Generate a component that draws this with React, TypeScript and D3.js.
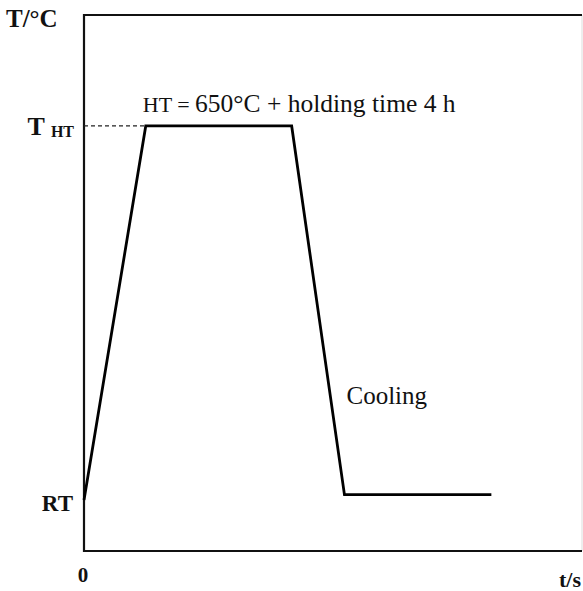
import React, { useEffect, useRef } from 'react';
import * as d3 from 'd3';

// heat-treatment profile (time, temperature) in arbitrary units
const profileTime = [0, 12.4, 41.7, 52.3, 81.8];
const profileTemp = [9.5, 79.3, 79.3, 10.5, 10.5];
const T_RT = 9.5;
const T_HT = 79.3;

const W = 583;
const H = 591;
const M = { left: 84, right: 1, top: 15, bottom: 40 };

const App: React.FC = () => {
  const svgRef = useRef<SVGSVGElement | null>(null);

  useEffect(() => {
    if (!svgRef.current) return;
    const svg = d3.select(svgRef.current);
    svg.selectAll('*').remove();

    const x = d3.scaleLinear().domain([0, 100]).range([M.left, W - M.right]);
    const y = d3.scaleLinear().domain([0, 100]).range([H - M.bottom, M.top]);
    const serif = "'Liberation Serif', 'Times New Roman', serif";

    // frame
    svg
      .append('line')
      .attr('x1', x(100)).attr('x2', x(100))
      .attr('y1', y(100)).attr('y2', y(0))
      .attr('stroke', '#ddd').attr('stroke-width', 1);
    svg
      .append('path')
      .attr('d', `M${x(100)},${y(100)}H${x(0)}V${y(0)}H${x(100)}`)
      .attr('fill', 'none')
      .attr('stroke', '#111')
      .attr('stroke-width', 2.2);

    // dashed guide to T_HT
    svg
      .append('line')
      .attr('x1', x(0)).attr('x2', x(profileTime[1]))
      .attr('y1', y(T_HT)).attr('y2', y(T_HT))
      .attr('stroke', '#222')
      .attr('stroke-width', 1.3)
      .attr('stroke-dasharray', '4,3');

    const line = d3
      .line<number>()
      .x((d) => x(d))
      .y((_, i) => y(profileTemp[i]));
    svg
      .append('path')
      .datum(profileTime)
      .attr('d', line)
      .attr('fill', 'none')
      .attr('stroke', '#000')
      .attr('stroke-width', 2.8)
      .attr('stroke-linejoin', 'miter');

    const txt = (s: string, tx: number, ty: number, size: number, bold = true, anchor = 'start') =>
      svg
        .append('text')
        .attr('x', tx)
        .attr('y', ty)
        .attr('font-family', serif)
        .attr('font-size', size)
        .attr('font-weight', bold ? 'bold' : 'normal')
        .attr('text-anchor', anchor)
        .attr('fill', '#111')
        .text(s);

    txt('T/°C', 6, 27, 25);
    txt('RT', 73, y(T_RT) + 11, 23, true, 'end');
    txt('0', x(0) - 1, 582, 21, true, 'middle');
    txt('t/s', 559, 587, 22);

    const tht = svg
      .append('text')
      .attr('x', 74)
      .attr('y', y(T_HT) + 9)
      .attr('text-anchor', 'end')
      .attr('font-family', serif)
      .attr('font-weight', 'bold')
      .attr('fill', '#111');
    tht.append('tspan').attr('font-size', 26).text('T ');
    tht.append('tspan').attr('font-size', 16).attr('dy', 2).text('HT');

    const ann = svg
      .append('text')
      .attr('x', x(profileTime[1]) - 3)
      .attr('y', y(T_HT) - 14)
      .attr('font-family', serif)
      .attr('fill', '#111');
    ann.append('tspan').attr('font-size', 22).text('HT = ');
    ann.append('tspan').attr('font-size', 25.5).text('650°C + holding time 4 h');

    txt('Cooling', x(profileTime[3]) + 2, 404, 25, false);
  }, []);

  return <svg ref={svgRef} width={W} height={H} style={{ position: 'absolute', left: 0, top: 0 }} />;
};

export default App;
